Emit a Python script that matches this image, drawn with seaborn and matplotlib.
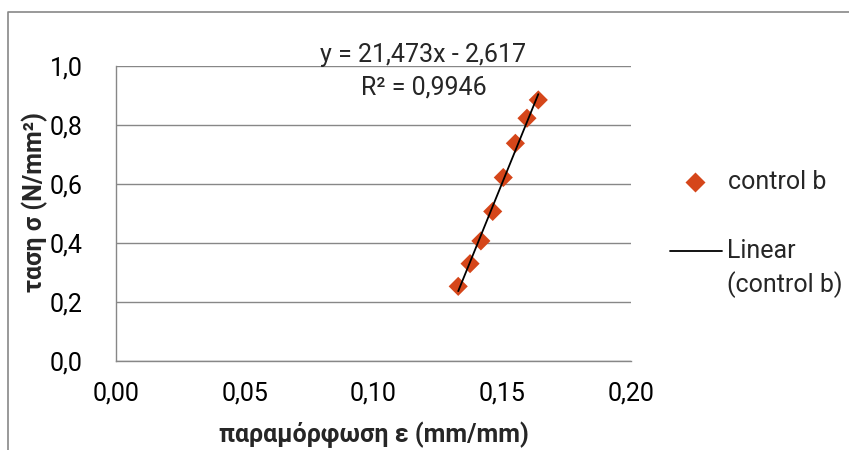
import matplotlib
matplotlib.use("Agg")
import matplotlib.pyplot as plt
from matplotlib.lines import Line2D
from matplotlib.ticker import FixedLocator
import numpy as np
import pandas as pd
import seaborn as sns

# Strain / stress measurements for specimen "control b"
strain = [0.1329, 0.1375, 0.1417, 0.1463, 0.1504, 0.1551, 0.1596, 0.1640]
stress = [0.253, 0.330, 0.407, 0.507, 0.622, 0.738, 0.823, 0.885]

# Linear trendline coefficients and goodness of fit
slope = 21.473
intercept = -2.617
r_squared = 0.9946

x_ticks = [0.00, 0.05, 0.10, 0.15, 0.20]
y_ticks = [0.0, 0.2, 0.4, 0.6, 0.8, 1.0]

series_name = "control b"
x_label = "παραμόρφωση ε (mm/mm)"
y_label = "ταση σ (N/mm²)"

sns.set_theme(style="white")
plt.rcParams["font.family"] = ["Roboto", "DejaVu Sans"]

marker_color = "#D5461A"
grid_color = "#878787"
FS = 18

df = pd.DataFrame({"strain": strain, "stress": stress})

fig = plt.figure(figsize=(8.49, 4.5), dpi=100)
ax = fig.add_axes([116 / 849, 1 - 361 / 450, (631 - 116) / 849, (361 - 66) / 450])

sns.scatterplot(data=df, x="strain", y="stress", marker="D", s=95,
                color=marker_color, edgecolor="none", ax=ax, zorder=3,
                legend=False)

# Trendline over the measured strain range
xl = np.array([min(strain), max(strain)])
sns.lineplot(x=xl, y=slope * xl + intercept, color="black", lw=1.3,
             ax=ax, zorder=4, legend=False)

ax.set_xlim(0, 0.2)
ax.set_ylim(0, 1.0)
ax.xaxis.set_major_locator(FixedLocator(x_ticks))
ax.yaxis.set_major_locator(FixedLocator(y_ticks))
ax.set_xticklabels([f"{v:.2f}".replace(".", ",") for v in x_ticks])
ax.set_yticklabels([f"{v:.1f}".replace(".", ",") for v in y_ticks])
ax.tick_params(axis="both", labelsize=FS, colors="black", length=0)
ax.tick_params(axis="x", pad=15)
ax.tick_params(axis="y", pad=24)

ax.grid(axis="y", color=grid_color, lw=1.0)
ax.grid(axis="x", visible=False)
for side in ["top", "right"]:
    ax.spines[side].set_visible(False)
for side in ["left", "bottom"]:
    ax.spines[side].set_color(grid_color)
    ax.spines[side].set_linewidth(1.0)

ax.set_xlabel(x_label, fontsize=FS, fontweight="bold", labelpad=11)
ax.set_ylabel(y_label, fontsize=FS, fontweight="bold")
ax.yaxis.set_label_coords(-0.133, 0.54)

# Trendline equation and R² annotation
eq = f"y = {slope:.3f}x - {abs(intercept):.3f}".replace(".", ",")
r2 = f"R² = {r_squared:.4f}".replace(".", ",")
fig.text(423 / 849, 1 - 55 / 450, eq, fontsize=FS, ha="center", va="center")
fig.text(424 / 849, 1 - 87 / 450, r2, fontsize=FS, ha="center", va="center")

# Legend entries at the right of the plot area
fig.add_artist(Line2D([695 / 849], [1 - 182 / 450], marker="D", ms=10,
                      color=marker_color, mec="none", ls="none",
                      transform=fig.transFigure))
fig.text(728 / 849, 1 - 182 / 450, series_name, fontsize=FS,
         ha="left", va="center")
fig.add_artist(Line2D([670 / 849, 722 / 849], [1 - 251 / 450] * 2,
                      color="black", lw=1.3, transform=fig.transFigure))
fig.text(727 / 849, 1 - 251 / 450, "Linear", fontsize=FS,
         ha="left", va="center")
fig.text(727 / 849, 1 - 285 / 450, f"({series_name})", fontsize=FS,
         ha="left", va="center")

# Chart frame
fig.add_artist(Line2D([8 / 849, 8 / 849, 1.0], [0, 1 - 12 / 450, 1 - 12 / 450],
                      color=grid_color, lw=1.2, transform=fig.transFigure))

fig.savefig("out.png", dpi=100, facecolor="white")
